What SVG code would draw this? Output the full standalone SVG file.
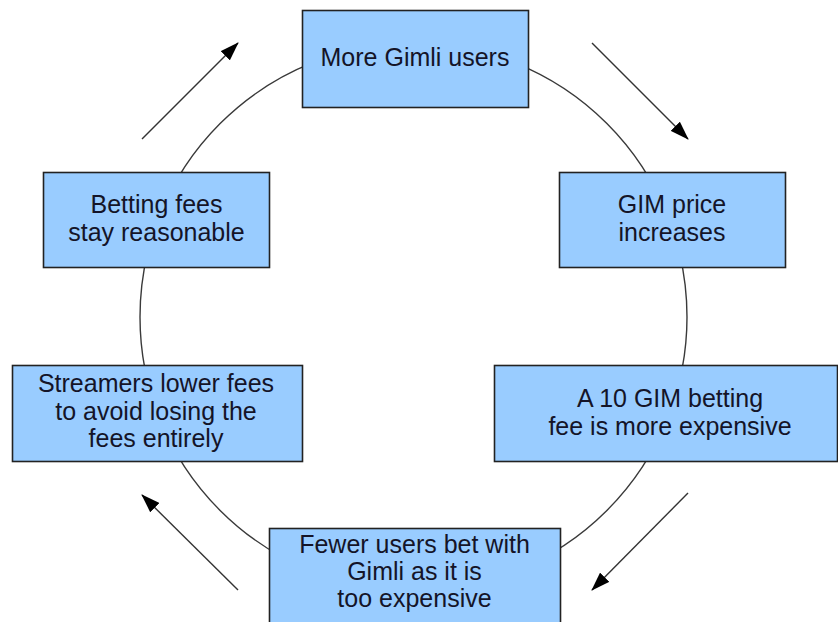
<svg xmlns="http://www.w3.org/2000/svg" width="838" height="622" viewBox="0 0 838 622">
<defs>
<marker id="ah" markerWidth="19" markerHeight="13" refX="18" refY="6.5" orient="auto" markerUnits="userSpaceOnUse">
<path d="M0,0 L19,6.5 L0,13 Z" fill="#000"/>
</marker>
<style>
.box{fill:#99ccff;stroke:#222;stroke-width:1.6}
.t{font-family:"Liberation Sans",Arial,sans-serif;font-size:25px;fill:#141428;text-anchor:middle}
.ring{fill:none;stroke:#3a3a3a;stroke-width:1.4}
.arr{fill:none;stroke:#333;stroke-width:1.4;marker-end:url(#ah)}
</style>
</defs>
<rect width="838" height="622" fill="#fff"/>
<g id="connectors">
<circle class="ring" cx="413.5" cy="317" r="273.5"/>
<path class="arr" d="M142,139 L238,43"/>
<path class="arr" d="M592,43 L688,139"/>
<path class="arr" d="M688,493 L592,590"/>
<path class="arr" d="M238,590 L142,495"/>
</g>
<g id="n1">
<rect class="box" x="302.5" y="10.5" width="226" height="97"/>
<text class="t" x="415" y="66">More Gimli users</text>
</g>
<g id="n2">
<rect class="box" x="559.5" y="172.5" width="226" height="95"/>
<text class="t" x="672" y="213">GIM price</text>
<text class="t" x="672" y="241">increases</text>
</g>
<g id="n3">
<rect class="box" x="494.5" y="365.5" width="343" height="96"/>
<text class="t" x="670" y="407">A 10 GIM betting</text>
<text class="t" x="670" y="435">fee is more expensive</text>
</g>
<g id="n4">
<rect class="box" x="269.5" y="528.5" width="291" height="100"/>
<text class="t" x="414.5" y="553">Fewer users bet with</text>
<text class="t" x="414.5" y="580">Gimli as it is</text>
<text class="t" x="414.5" y="607">too expensive</text>
</g>
<g id="n5">
<rect class="box" x="12.5" y="365.5" width="290" height="96"/>
<text class="t" x="156" y="392">Streamers lower fees</text>
<text class="t" x="156" y="420">to avoid losing the</text>
<text class="t" x="156" y="447">fees entirely</text>
</g>
<g id="n6">
<rect class="box" x="43.5" y="172.5" width="226" height="95"/>
<text class="t" x="156.5" y="213">Betting fees</text>
<text class="t" x="156.5" y="241">stay reasonable</text>
</g>
</svg>
